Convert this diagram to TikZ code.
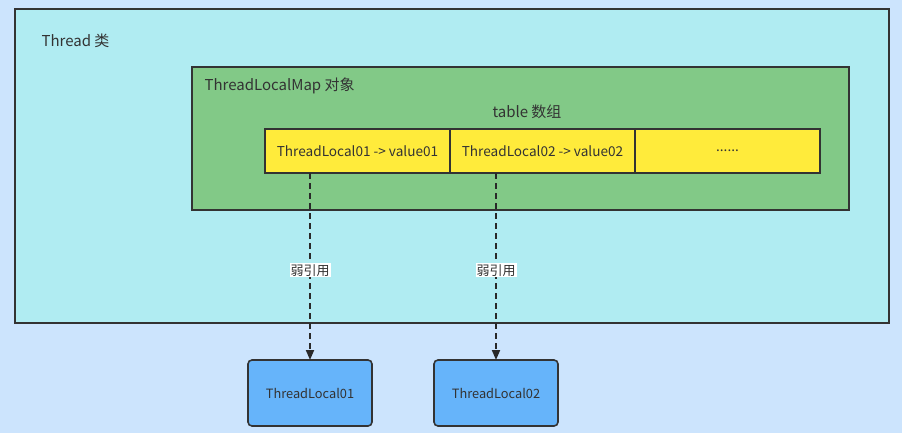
\documentclass[tikz,border=0pt]{standalone}
\usepackage{fontspec}
\setmainfont{Noto Sans CJK SC}
\usetikzlibrary{arrows.meta, positioning}

\definecolor{pagebg}{RGB}{204,228,253}
\definecolor{threadbg}{RGB}{176,236,242}
\definecolor{mapbg}{RGB}{130,201,135}
\definecolor{cellbg}{RGB}{255,235,59}
\definecolor{refbg}{RGB}{102,180,250}
\definecolor{edge}{RGB}{51,51,51}

\begin{document}
\begin{tikzpicture}[x=1pt, y=-1pt, font=\fontsize{13.6}{15}\selectfont, text=edge,
	box/.style={draw=edge, line width=1.6pt, outer sep=0pt, inner sep=0pt},
	cell/.style={box, fill=cellbg, minimum width=185pt, minimum height=44pt},
	refbox/.style={box, fill=refbg, rounded corners=4pt, minimum width=124pt, minimum height=66pt, font=\fontsize{12.8}{14}\selectfont},
	weakref/.style={draw=edge!80!black, line width=1.8pt, dash pattern=on 6pt off 4pt, -{Triangle[length=10pt, width=8pt]}},
	reflabel/.style={fill=white, inner sep=1pt, font=\fontsize{13}{14}\selectfont},
	title/.style={font=\fontsize{15}{17}\selectfont}]
	\useasboundingbox (0,0) rectangle (902,433);
	\fill[pagebg] (0,0) rectangle (902,433);

	% Thread
	\draw[box, fill=threadbg] (15,9) rectangle (889,323);
	\node[title, anchor=west] (thread) at (38,41) {Thread 类};

	% ThreadLocalMap
	\draw[box, fill=mapbg] (192,67) rectangle (849,210);
	\node[title, anchor=west] (map) at (201,86) {ThreadLocalMap 对象};
	\node[title] (table) at (527,112) {table 数组};

	% table cells
	\node[cell] (cell1) at (357.5,151) {ThreadLocal01 -> value01};
	\node[cell, right=0pt of cell1] (cell2) {ThreadLocal02 -> value02};
	\node[cell, right=0pt of cell2] (cell3) {......};

	% referenced ThreadLocal objects
	\node[refbox] (tl1) at (310,393) {ThreadLocal01};
	\node[refbox] (tl2) at (496,393) {ThreadLocal02};

	\draw[weakref] (tl1.north |- cell1.south) -- node[reflabel, pos=0.52] {弱引用} (tl1.north);
	\draw[weakref] (tl2.north |- cell2.south) -- node[reflabel, pos=0.52] {弱引用} (tl2.north);
\end{tikzpicture}
\end{document}
